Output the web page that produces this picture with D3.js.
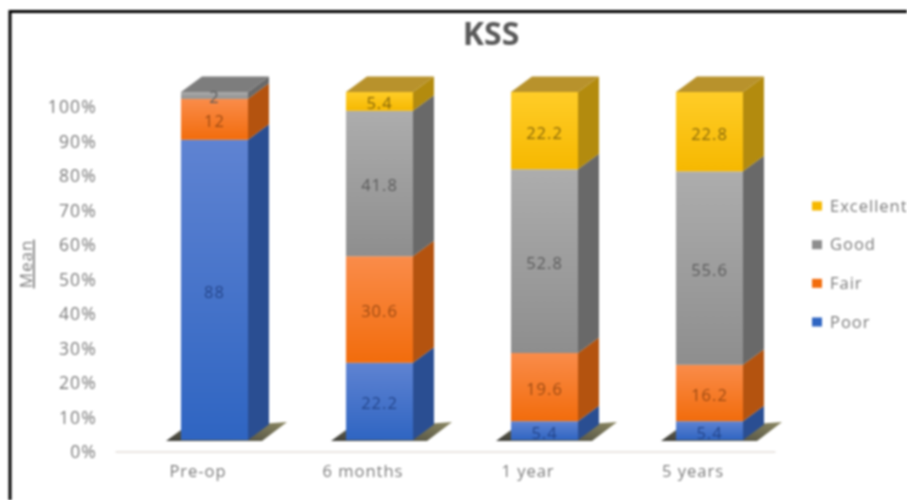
<!DOCTYPE html>
<html><head><meta charset="utf-8">
<script src="https://cdnjs.cloudflare.com/ajax/libs/d3/7.8.5/d3.min.js"></script>
<style>html,body{margin:0;padding:0;background:#fff}svg{display:block}
#chart{filter:blur(1px)}</style></head><body><div id="chart"></div>
<script>
const categories=["Pre-op","6 months","1 year","5 years"];
const seriesNames=["Poor","Fair","Good","Excellent"];
const poor=[88,22.2,5.4,5.4];
const fair=[12,30.6,19.6,16.2];
const good=[2,41.8,52.8,55.6];
const excellent=[0,5.4,22.2,22.8];
const tickLabels=[0,10,20,30,40,50,60,70,80,90,100];
const frontLight=["#5f83d2","#fa8c4a","#adadad","#ffcd28"];
const frontDark=["#2f65c2","#f26c0c","#8e8e8e","#f6b800"];
const sideColors=["#2a4e92","#b4530f","#696969","#b38b0e"];
const topColors=["#2a4e92","#b4530f","#7d7d7d","#b8922c"];

const W=907,H=500,depthX=21,depthY=15.5,barW=67;
const svg=d3.select("#chart").append("svg").attr("width",W).attr("height",H);
const defs=svg.append("defs");
seriesNames.forEach((s,i)=>{
  const g=defs.append("linearGradient").attr("id","g"+i).attr("x1",0).attr("y1",0).attr("x2",0).attr("y2",1);
  g.append("stop").attr("offset","0%").attr("stop-color",frontLight[i]);
  g.append("stop").attr("offset","100%").attr("stop-color",frontDark[i]);
});
const sh=defs.append("linearGradient").attr("id","shadow").attr("x1",0).attr("y1",1).attr("x2",1).attr("y2",0);
sh.append("stop").attr("offset","0%").attr("stop-color","#3f3f3a");
sh.append("stop").attr("offset","100%").attr("stop-color","#8a8660");

svg.append("path").attr("d",`M10,${H+5}V11.5H${W+5}`).attr("fill","none").attr("stroke","#000").attr("stroke-width",3);

const x=d3.scaleBand().domain(categories).range([115.5,775.5]);
const yBar=d3.scaleLinear().domain([0,100]).range([440,92]);
const yAxis=d3.scaleLinear().domain([0,100]).range([452,107]);
const rows=categories.map((c,i)=>{
  const raw=[poor[i],fair[i],good[i],excellent[i]];
  const total=d3.sum(raw);let acc=0;
  return {c,segs:raw.map((v,s)=>{const a=acc;acc+=v;return{s,v,y0:a/total*100,y1:acc/total*100};}).filter(d=>d.v>0)};
});
const font="'Open Sans',sans-serif",txt="#7b7b7b",fs=16.5,ls="1px";

svg.append("line").attr("x1",x.range()[0]).attr("x2",x.range()[1]).attr("y1",yAxis(0)).attr("y2",yAxis(0)).attr("stroke","#e2dcd8").attr("stroke-width",1.5);
const ga=svg.append("g").attr("transform","translate(97,0)").call(d3.axisLeft(yAxis).tickValues(tickLabels).tickSize(0).tickPadding(0).tickFormat(d=>d+"%"));
ga.select(".domain").remove();
ga.selectAll("text").attr("font-family",font).attr("font-size",17.5).attr("letter-spacing","1.2px").attr("fill",txt);
const gx=svg.append("g").attr("transform",`translate(0,${yAxis(0)+20})`).call(d3.axisBottom(x).tickSize(0).tickPadding(0));
gx.select(".domain").remove();
gx.selectAll("text").attr("font-family",font).attr("font-size",fs).attr("letter-spacing",ls).attr("fill",txt).attr("dy","0.32em").attr("y",0);

const barX=c=>x(c)+x.bandwidth()/2-barW/2+16.5;
const bars=svg.selectAll(".bar").data(rows).join("g").attr("class","bar");
bars.append("polygon").attr("fill","url(#shadow)").attr("points",d=>{
  const l=barX(d.c),b=yBar(0);
  return [[l-15,b+1],[l,b-10],[l+barW+39,b-18],[l+barW+14,b+1]].join(" ");
});
bars.selectAll(".side").data(d=>d.segs.map(s=>({...s,c:d.c}))).join("polygon").attr("class","side")
 .attr("fill",d=>sideColors[d.s]).attr("points",d=>{
   const r=barX(d.c)+barW;
   return [[r,yBar(d.y0)],[r+depthX,yBar(d.y0)-depthY],[r+depthX,yBar(d.y1)-depthY],[r,yBar(d.y1)]].join(" ");
 });
bars.append("polygon").attr("fill",d=>topColors[d.segs[d.segs.length-1].s]).attr("points",d=>{
  const l=barX(d.c),t=yBar(100);
  return [[l,t],[l+depthX,t-depthY],[l+barW+depthX,t-depthY],[l+barW,t]].join(" ");
});
bars.selectAll(".front").data(d=>d.segs.map(s=>({...s,c:d.c}))).join("rect").attr("class","front")
 .attr("x",d=>barX(d.c)).attr("width",barW).attr("y",d=>yBar(d.y1)).attr("height",d=>yBar(d.y0)-yBar(d.y1))
 .attr("fill",d=>`url(#g${d.s})`);
const labelColor=["#24458a","#9c4a12","#5a5a5a","#86660a"];
bars.selectAll(".val").data(d=>d.segs.map(s=>({...s,c:d.c}))).join("text").attr("class","val")
 .attr("x",d=>barX(d.c)+barW/2).attr("y",d=>(yBar(d.y0)+yBar(d.y1))/2+2).attr("dy","0.36em")
 .attr("text-anchor","middle").attr("font-family",font).attr("font-size",fs).attr("letter-spacing",ls).attr("fill",d=>labelColor[d.s]).text(d=>d.v);

svg.append("text").attr("x",491).attr("y",45).attr("text-anchor","middle").attr("font-family",font).attr("font-weight",700).attr("font-size",32).attr("fill","#595959").text("KSS");
svg.append("text").attr("transform","translate(32,264) rotate(-90)").attr("text-anchor","middle").attr("font-family",font).attr("font-size",17).attr("letter-spacing","1px").attr("fill",txt).attr("text-decoration","underline").text("Mean");
const legendY=d3.scalePoint().domain(seriesNames.slice().reverse()).range([206,322]);
const lg=svg.selectAll(".lg").data(seriesNames).join("g").attr("class","lg").attr("transform",d=>`translate(812,${legendY(d)})`);
lg.append("rect").attr("y",-4.5).attr("width",10).attr("height",9).attr("fill",(d,i)=>frontDark[i]);
lg.append("text").attr("x",18).attr("dy","0.34em").attr("font-family",font).attr("font-size",fs).attr("letter-spacing",ls).attr("fill",txt).text(d=>d);
</script></body></html>
